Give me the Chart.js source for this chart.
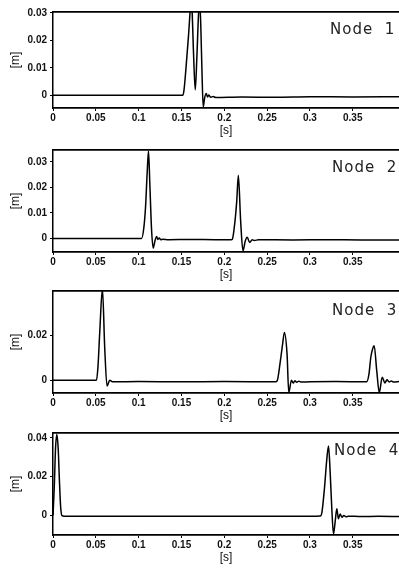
<!DOCTYPE html>
<html>
<head>
<meta charset="utf-8">
<script src="https://cdn.jsdelivr.net/npm/chart.js@4.4.1/dist/chart.umd.min.js"></script>
<style>
  html, body { margin: 0; padding: 0; background: #fff; overflow: hidden; }
  .panel { position: absolute; left: 0; width: 399px; }
</style>
</head>
<body>
<div class="panel" style="top:3px;height:137px"><canvas id="node1" width="399" height="137"></canvas></div>
<div class="panel" style="top:141px;height:143px"><canvas id="node2" width="399" height="143"></canvas></div>
<div class="panel" style="top:282px;height:143px"><canvas id="node3" width="399" height="143"></canvas></div>
<div class="panel" style="top:424px;height:143px"><canvas id="node4" width="399" height="143"></canvas></div>
<script>
// Displacement of four nodes vs time
// time [s], displacement [m]

const timeTicks = [0, 0.05, 0.1, 0.15, 0.2, 0.25, 0.3, 0.35];

const node1Time = [0, 0.05, 0.1, 0.145, 0.1515, 0.153, 0.1553, 0.1583, 0.1605, 0.1615, 0.1625, 0.164, 0.1661,
  0.168, 0.170, 0.1712, 0.1725, 0.174, 0.1754, 0.177, 0.1789, 0.1805, 0.182, 0.184, 0.187, 0.19, 0.22, 0.26, 0.3, 0.35, 0.404];
const node1Disp = [0, 0, 0, 0, 0, 0.002, 0.010, 0.022, 0.032, 0.034, 0.030, 0.016, 0.002,
  0.014, 0.030, 0.034, 0.026, 0.008, -0.0042, -0.001, 0.0007, -0.0006, 0.0001, -0.0007, -0.0004, -0.0008, -0.0006, -0.0007, -0.0005, -0.0006, -0.0005];
const node1Ticks = [0, 0.01, 0.02, 0.03];

const node2Time = [0, 0.05, 0.1, 0.1034, 0.106, 0.108, 0.110, 0.1115, 0.113, 0.115, 0.117, 0.119, 0.121, 0.1225,
  0.124, 0.126, 0.128, 0.135, 0.16, 0.19, 0.208, 0.2094, 0.2125, 0.2145, 0.2164, 0.2191, 0.2218, 0.2245, 0.2268,
  0.2296, 0.2326, 0.235, 0.24, 0.28, 0.32, 0.36, 0.404];
const node2Disp = [0, 0, 0, 0, 0.004, 0.012, 0.026, 0.0342, 0.022, 0.004, -0.0038, -0.001, 0.0008, -0.0004,
  0.0002, -0.0005, -0.0003, -0.0005, -0.0004, -0.0005, -0.0005, -0.0003, 0.0068, 0.0144, 0.0247, 0.0068, -0.0048, -0.001, 0.0005,
  -0.0016, -0.0005, -0.0008, -0.0005, -0.0006, -0.0005, -0.0006, -0.0006];
const node2Ticks = [0, 0.01, 0.02, 0.03];

const node3Time = [0, 0.03, 0.0507, 0.0525, 0.0546, 0.0577, 0.0604, 0.0631, 0.0662, 0.07, 0.1, 0.15, 0.2, 0.2597,
  0.2617, 0.2655, 0.268, 0.2702, 0.2733, 0.2753, 0.2784, 0.2805, 0.2825, 0.2845, 0.287, 0.29, 0.3, 0.33, 0.3662,
  0.369, 0.371, 0.373, 0.375, 0.378, 0.381, 0.3844, 0.3875, 0.390, 0.3925, 0.395, 0.398, 0.404];
const node3Disp = [0, 0, 0, 0.006, 0.0217, 0.041, 0.0145, -0.0026, 0, -0.0007, -0.0006, -0.0007, -0.0006, -0.0007,
  -0.0003, 0.0087, 0.016, 0.0214, 0.0117, -0.0055, 0, -0.0012, -0.0002, -0.0009, -0.0004, -0.0008, -0.0007, -0.0006, -0.0007,
  0.003, 0.0101, 0.0138, 0.0155, 0.0043, -0.0055, 0.0014, -0.0012, 0.0002, -0.0008, -0.0003, -0.0008, -0.0005];
const node3Ticks = [0, 0.02];

const node4Time = [0, 0.0015, 0.003, 0.0045, 0.006, 0.0075, 0.009, 0.0105, 0.013, 0.05, 0.1, 0.15, 0.2, 0.25,
  0.3, 0.312, 0.314, 0.317, 0.3197, 0.3217, 0.3236, 0.3255, 0.3275, 0.3295, 0.3314, 0.3333, 0.3353, 0.3375,
  0.3395, 0.342, 0.345, 0.36, 0.38, 0.404];
const node4Disp = [0, 0.015, 0.035, 0.0417, 0.035, 0.018, 0.004, 0, -0.0003, -0.0003, -0.0004, -0.0003, -0.0004, -0.0003,
  -0.0003, -0.0002, 0.0017, 0.0142, 0.029, 0.0358, 0.0225, 0.004, -0.0095, -0.003, 0.0035, -0.0017, 0.0008, -0.0009,
  0.0001, -0.0006, -0.0003, -0.0005, -0.0004, -0.0005];
const node4Ticks = [0, 0.02, 0.04];

Chart.defaults.font.family = "'Liberation Sans', Arial, sans-serif";
Chart.defaults.color = '#111';

const fmt = v => String(+Number(v).toFixed(3));

// draws the "Node n" caption inside the plot
const nodeLabel = {
  id: 'nodeLabel',
  afterDatasetsDraw(chart, args, opts) {
    const ctx = chart.ctx;
    ctx.save();
    ctx.font = "15px 'DejaVu Sans', sans-serif";
    ctx.letterSpacing = '1px';
    ctx.fillStyle = '#222';
    ctx.textBaseline = 'middle';
    ctx.fillText(opts.text, opts.x, chart.chartArea.top + opts.dy);
    ctx.restore();
  }
};

function makeNodeChart(id, text, times, disp, yTicks, yMin, yMax, labelX, labelDy) {
  const points = times.map((t, i) => ({ x: t, y: disp[i] }));
  new Chart(document.getElementById(id), {
    type: 'line',
    data: {
      datasets: [{
        data: points,
        borderColor: '#000',
        borderWidth: 1.5,
        pointRadius: 0,
        cubicInterpolationMode: 'monotone',
        fill: false
      }]
    },
    options: {
      responsive: false,
      animation: false,
      devicePixelRatio: 1,
      layout: { padding: { top: 6, right: 0, bottom: 0, left: 0 } },
      plugins: {
        legend: { display: false },
        tooltip: { enabled: false },
        nodeLabel: { text: text, x: labelX, dy: labelDy }
      },
      scales: {
        x: {
          type: 'linear',
          position: 'bottom',
          min: 0,
          max: 0.404,
          afterBuildTicks: s => { s.ticks = timeTicks.map(v => ({ value: v })); },
          afterFit: s => { s.height = 32; },
          grid: { drawOnChartArea: false, drawTicks: true, tickLength: 3, color: '#000' },
          border: { display: true, color: '#000', width: 1.8 },
          ticks: { callback: fmt, autoSkip: false, maxRotation: 0, padding: 1, font: { size: 10, weight: 'bold' } },
          title: { display: true, text: '[s]', font: { size: 12 }, padding: { top: 0, bottom: 2.5 } }
        },
        x2: {
          type: 'linear',
          position: 'top',
          min: 0,
          max: 0.404,
          afterFit: s => { s.height = 0; },
          grid: { drawOnChartArea: false, drawTicks: false },
          border: { display: true, color: '#000', width: 1.8 },
          ticks: { display: false }
        },
        y: {
          min: yMin,
          max: yMax,
          afterBuildTicks: s => { s.ticks = yTicks.map(v => ({ value: v })); },
          afterFit: s => { s.width = 53; },
          grid: { drawOnChartArea: false, drawTicks: true, tickLength: 3, color: '#000' },
          border: { display: true, color: '#000', width: 1.5 },
          ticks: { callback: fmt, autoSkip: false, padding: 3, font: { size: 10, weight: 'bold' } },
          title: { display: true, text: '[m]', font: { size: 12 }, padding: { top: 8.8, bottom: 0 } }
        }
      }
    },
    plugins: [nodeLabel]
  });
}

makeNodeChart('node1', 'Node  1', node1Time, node1Disp, node1Ticks, -0.0046, 0.0303, 330, 18);
makeNodeChart('node2', 'Node  2', node2Time, node2Disp, node2Ticks, -0.0053, 0.0346, 332, 18);
makeNodeChart('node3', 'Node  3', node3Time, node3Disp, node3Ticks, -0.0057, 0.040, 332, 20);
makeNodeChart('node4', 'Node  4', node4Time, node4Disp, node4Ticks, -0.010, 0.0425, 334, 18);
</script>
</body>
</html>
